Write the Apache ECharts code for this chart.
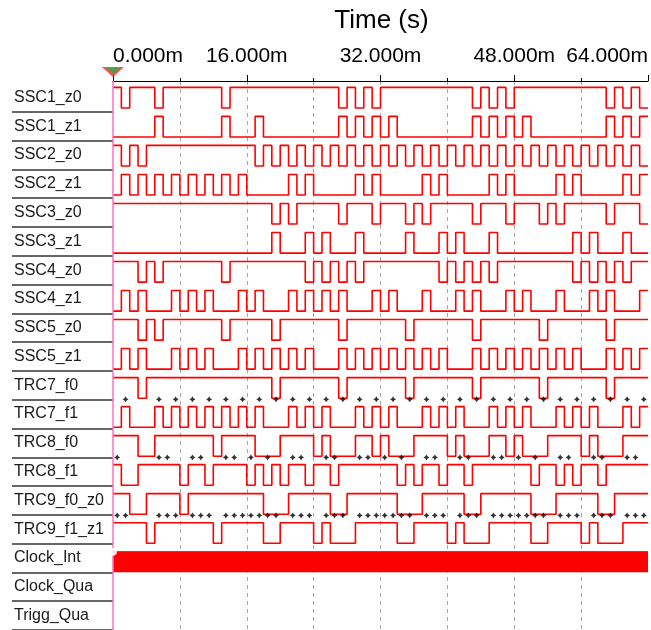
<!DOCTYPE html>
<html>
<head>
<meta charset="utf-8">
<script src="https://cdn.jsdelivr.net/npm/echarts@6/dist/echarts.min.js"></script>
<style>
  html, body { margin: 0; padding: 0; background: #fff; }
  #chart { width: 651px; height: 630px; }
</style>
</head>
<body>
<div id="chart"></div>
<script>
// rows, top to bottom
var signalNames = ['SSC1_z0', 'SSC1_z1', 'SSC2_z0', 'SSC2_z1', 'SSC3_z0', 'SSC3_z1',
  'SSC4_z0', 'SSC4_z1', 'SSC5_z0', 'SSC5_z1', 'TRC7_f0', 'TRC7_f1', 'TRC8_f0', 'TRC8_f1',
  'TRC9_f0_z0', 'TRC9_f1_z1', 'Clock_Int', 'Clock_Qua', 'Trigg_Qua'];

// one char per 1 ms slot (0 = low, 1 = high), groups of 8 just for reading
var waveBits = [
  '10111011 11111011 11111111 11101010 11111111 11101010 11111111 11101010', // SSC1_z0
  '00000100 00000100 01000000 00010101 01000000 00010101 01000000 00010101', // SSC1_z1
  '10101111 11111111 10101010 10101010 10101010 10101010 10101010 10101010', // SSC2_z0
  '01010101 01010101 00000101 00000101 00000101 00000101 00000101 00000101', // SSC2_z1
  '11111111 11111111 11101011 11101110 11101011 11101110 11101011 11101110', // SSC3_z0
  '00000000 00000000 00010001 01000100 00010001 01000100 00000001 01000100', // SSC3_z1
  '11101011 11111011 11111110 10101011 11111110 10101011 11111110 10101011', // SSC4_z0
  '01010001 01010001 01000101 01010001 01000100 01010001 01000100 01010001', // SSC4_z1
  '11101011 11111011 11101111 11101111 11101111 11101111 11101111 11101111', // SSC5_z0
  '01010001 01010001 01010101 00010101 01010101 00010101 01010101 00010101', // SSC5_z1
  '11101111 11111111 11101111 11101111 11101111 11101111 11101111 11101111', // TRC7_f0
  '01000101 01010101 01000101 01000101 01000101 01000101 01000101 01000101', // TRC7_f1
  '11100111 11110111 10001111 01000110 10001111 01000110 10001111 01000111', // TRC8_f0
  '10011111 01101111 01010110 11011111 11010110 11011111 11011010 11011111', // TRC8_f1
  '11001111 01111111 11000111 11001111 11000111 11001111 11000111 11001111', // TRC9_f0_z0
  '11110111 11110111 11001111 01000111 11001111 01000111 11001111 01000111'  // TRC9_f1_z1
];

// slots (ms) marked with a small black dot above the row
var trc7Dots = [1, 5, 7, 9, 11, 13, 15, 17, 19, 21, 23, 25, 27, 29, 31, 33, 35, 37, 39,
  41, 43, 45, 47, 49, 51, 53, 55, 57, 59, 61, 63];
var trc8Dots = [0, 5, 6, 9, 10, 13, 14, 16, 18, 21, 22, 25, 26, 29, 30, 32, 34, 37, 38,
  41, 42, 45, 46, 48, 50, 53, 54, 57, 58, 61, 62];
var trc9Dots = [0, 1, 5, 6, 7, 9, 10, 11, 13, 14, 15, 16, 17, 18, 19, 21, 22, 23, 25, 26, 27,
  29, 30, 31, 32, 33, 34, 35, 37, 38, 39, 41, 42, 43, 45, 46, 47, 48, 49, 50, 51, 53, 54, 55,
  57, 58, 59, 61, 62, 63];

var timeMax = 64;        // ms
var labeledTicks = [0, 16, 32, 48, 64];

var HI = 0.15, LO = 0.86;   // level offsets inside a row
var RED = '#ff0000';

function stepData(bits, row) {
  bits = bits.replace(/ /g, '');
  var pts = [];
  for (var t = 0; t < bits.length; t++) {
    pts.push([t, row + (bits[t] === '1' ? HI : LO)]);
  }
  pts.push([bits.length, pts[pts.length - 1][1]]);
  return pts;
}

function dotData(slots, row) {
  return slots.map(function (t) { return [t + 0.5, row - 0.1]; });
}

var series = [];
waveBits.forEach(function (bits, i) {
  series.push({
    name: signalNames[i],
    type: 'line',
    step: 'end',
    symbol: 'none',
    data: stepData(bits, i),
    lineStyle: { color: RED, width: 1.6 },
    z: 3
  });
});

// Clock_Int toggles too fast to resolve -> solid band
series.push({
  name: 'Clock_Int',
  type: 'line',
  symbol: 'none',
  data: [[0, 16 + HI], [timeMax, 16 + HI]],
  lineStyle: { color: RED, width: 1 },
  areaStyle: { color: RED, opacity: 1, origin: 16 + LO },
  z: 3
});

var star = 'path://M0,-1L0.38,-0.38L1,0L0.38,0.38L0,1L-0.38,0.38L-1,0L-0.38,-0.38Z';
[[trc7Dots, 11], [trc8Dots, 13], [trc9Dots, 15]].forEach(function (d) {
  series.push({
    type: 'scatter',
    symbol: star,
    symbolSize: 6,
    data: dotData(d[0], d[1]),
    itemStyle: { color: '#000' },
    z: 4
  });
});

// cursor marker at t = 0
var downTri = 'path://M0,0L2,0L1,1Z';
series.push({
  type: 'scatter',
  symbol: downTri,
  symbolSize: [22, 10],
  symbolOffset: [0, -9],
  clip: false,
  data: [[0, -0.07]],
  itemStyle: { color: '#ff2020' },
  z: 6
});
series.push({
  type: 'scatter',
  symbol: downTri,
  symbolSize: [14, 6],
  symbolOffset: [0, -10],
  clip: false,
  data: [[0, -0.07]],
  itemStyle: { color: '#22b14c' },
  z: 7
});
series.push({
  type: 'scatter',
  symbol: 'emptyCircle',
  symbolSize: 6,
  clip: false,
  data: [[0, 16 + HI]],
  itemStyle: { color: '#fff', borderColor: '#22c040', borderWidth: 1 },
  z: 6
});

var chart = echarts.init(document.getElementById('chart'), null, { renderer: 'canvas' });
var dash = { color: '#a8a8a8', width: 1, type: [4, 4] };
var FONT = 'Liberation Sans, Arial, sans-serif';

chart.setOption({
  animation: false,
  backgroundColor: '#fff',
  title: {
    text: 'Time (s)',
    left: 381.5,
    textAlign: 'center',
    top: 8,
    padding: 0,
    textStyle: { fontSize: 26, fontWeight: 'normal', color: '#000', fontFamily: FONT }
  },
  grid: [
    { left: 113, top: 81, width: 537, height: 549 },
    { left: 12, top: 83, width: 101, height: 29.02 * 19 }
  ],
  xAxis: [{
    gridIndex: 0,
    type: 'value',
    position: 'top',
    min: 0,
    max: timeMax,
    interval: 16,
    axisLine: { show: true, onZero: false, lineStyle: { color: '#000', width: 1 } },
    axisTick: { show: true, length: 6, lineStyle: { color: '#000' } },
    minorTick: { show: true, splitNumber: 2, length: 3, lineStyle: { color: '#000' } },
    axisLabel: {
      color: '#000',
      fontSize: 21,
      fontFamily: FONT,
      margin: 14,
      alignMinLabel: 'left',
      alignMaxLabel: 'right',
      formatter: function (v) {
        return labeledTicks.indexOf(v) >= 0 ? v.toFixed(3) + 'm' : '';
      }
    },
    splitLine: { show: true, showMinLine: false, showMaxLine: false, lineStyle: dash },
    minorSplitLine: { show: true, lineStyle: dash }
  }, {
    gridIndex: 1,
    type: 'value',
    show: false
  }],
  yAxis: [{
    gridIndex: 0,
    type: 'value',
    inverse: true,
    z: 5,
    min: -0.07,
    max: -0.07 + 549 / 29.02,
    axisLine: { show: true, onZero: false, lineStyle: { color: '#ff70c0', width: 1.5 } },
    axisTick: { show: false },
    axisLabel: { show: false },
    splitLine: { show: false }
  }, {
    gridIndex: 1,
    type: 'category',
    inverse: true,
    data: signalNames,
    axisLine: { show: false },
    axisTick: { show: false },
    axisLabel: {
      inside: true,
      margin: 2,
      color: '#1a1a1a',
      fontSize: 16,
      fontFamily: FONT
    },
    splitLine: { show: true, showMinLine: false, lineStyle: { color: '#333', width: 1.5 } }
  }],
  series: series
});
</script>
</body>
</html>
